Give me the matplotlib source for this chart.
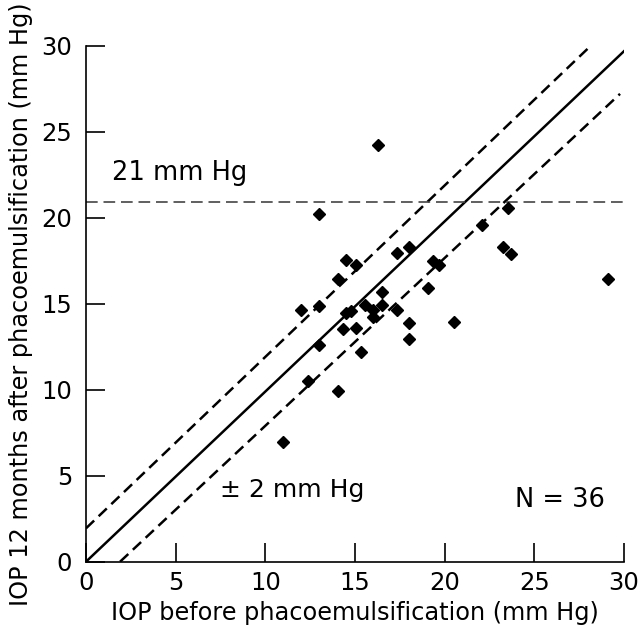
import matplotlib
matplotlib.use("Agg")
import matplotlib.pyplot as plt
import numpy as np

# Data
iop_before = [16.3, 13.0, 14.5, 15.06, 14.04, 17.33, 18.01, 19.37, 19.70, 19.07,
              16.53, 16.53, 15.54, 15.99, 16.02, 17.33, 14.50, 14.78, 12.99, 12.01,
              14.35, 15.06, 18.01, 20.52, 18.01, 13.01, 15.34, 12.36, 14.04, 10.97,
              23.55, 22.07, 23.27, 23.69, 29.10]
iop_after = [24.23, 20.2, 17.53, 17.27, 16.44, 17.93, 18.28, 17.48, 17.27, 15.93,
             15.66, 14.92, 14.92, 14.63, 14.24, 14.63, 14.48, 14.58, 14.88, 14.63,
             13.55, 13.57, 13.90, 13.94, 12.95, 12.60, 12.21, 10.52, 9.94, 6.96,
             20.55, 19.56, 18.28, 17.89, 16.42]

# Reference lines (endpoints)
identity_x = [0, 30.06]
identity_y = [0, 29.74]
upper_x = [0, 28.0]
upper_y = [1.94, 29.85]
lower_x = [1.9, 29.78]
lower_y = [0, 27.2]
threshold = 20.9
threshold_x = [0, 30.1]

xticks = [0, 5, 10, 15, 20, 25, 30]
yticks = [0, 5, 10, 15, 20, 25, 30]

plt.rcParams['font.family'] = ['DejaVu Sans']

fig = plt.figure(figsize=(6.4, 6.38), dpi=100)
ax = fig.add_axes([86/640, 1-561.7/638, (624-86)/640, (561.7-45.7)/638])

ax.plot(identity_x, identity_y, color='black', lw=1.8, solid_capstyle='butt')
ax.plot(upper_x, upper_y, color='black', lw=1.8, dashes=(4.5, 2.5))
ax.plot(lower_x, lower_y, color='black', lw=1.8, dashes=(4.5, 2.5))
ax.plot(threshold_x, [threshold, threshold], color='#444444', lw=1.2, dashes=(7, 3.5))

ax.plot(iop_before, iop_after, linestyle='none', marker='D', ms=6.5,
        color='black', mec='black')

ax.set_xlim(0, 30)
ax.set_ylim(0, 30)
ax.set_xticks(xticks)
ax.set_yticks(yticks)
for s in ['top', 'right']:
    ax.spines[s].set_visible(False)
for s in ['left', 'bottom']:
    ax.spines[s].set_linewidth(1.2)
ax.tick_params(direction='in', length=14, width=1.2, labelsize=17.5, pad=7)
ax.tick_params(axis='y', pad=10)

ax.set_xlabel('IOP before phacoemulsification (mm Hg)', fontsize=17.3, labelpad=4)
ax.set_ylabel('IOP 12 months after phacoemulsification (mm Hg)', fontsize=17.3, labelpad=6)

ax.text(1.45, 22.6, '21 mm Hg', fontsize=18.5, ha='left', va='center')
ax.text(7.45, 4.15, '± 2 mm Hg', fontsize=18, ha='left', va='center')
ax.text(28.95, 3.6, 'N = 36', fontsize=18.5, ha='right', va='center')

fig.savefig('out.png', dpi=100)
